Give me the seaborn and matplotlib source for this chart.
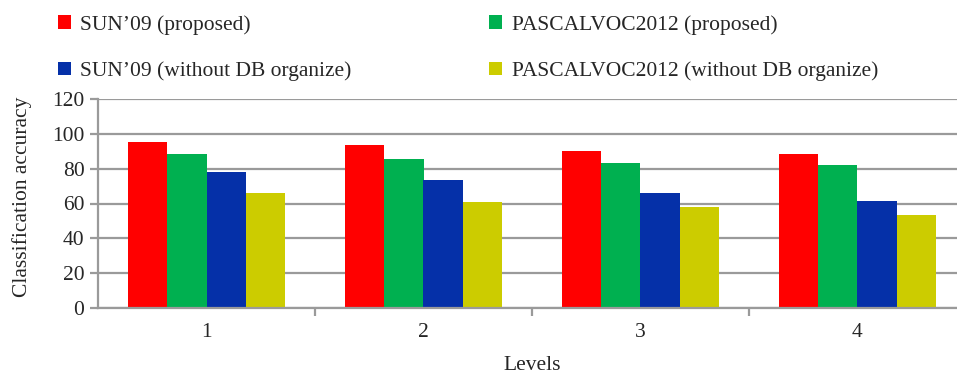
import matplotlib
matplotlib.use("Agg")
import matplotlib.pyplot as plt
from matplotlib.patches import Patch
import seaborn as sns
import pandas as pd

levels = ["1", "2", "3", "4"]
series_names = [
    "SUN\u201909 (proposed)",
    "PASCALVOC2012 (proposed)",
    "SUN\u201909 (without DB organize)",
    "PASCALVOC2012 (without DB organize)",
]
sun_proposed = [95.2, 93.7, 90.0, 88.5]
pascal_proposed = [88.5, 85.4, 83.1, 82.0]
sun_without = [77.9, 73.5, 66.0, 61.6]
pascal_without = [66.0, 60.7, 57.8, 53.4]
y_ticks = [0, 20, 40, 60, 80, 100, 120]

colors = ["#FF0000", "#00B050", "#0530A8", "#CCCC00"]

all_values = [sun_proposed, pascal_proposed, sun_without, pascal_without]
rows = []
for name, vals in zip(series_names, all_values):
    for lvl, v in zip(levels, vals):
        rows.append({"Levels": lvl, "Series": name, "Accuracy": v})
df = pd.DataFrame(rows)

sns.set_theme(style="white")
plt.rcParams["font.family"] = ["Liberation Serif", "DejaVu Serif"]
fs = 15.5

fig = plt.figure(figsize=(9.57, 3.74), dpi=100)
ax = fig.add_axes([98 / 957, 1 - 308 / 374, 868 / 957, 209 / 374])

sns.barplot(data=df, x="Levels", y="Accuracy", hue="Series",
            order=levels, hue_order=series_names, palette=colors,
            width=0.72, saturation=1, ax=ax, legend=False,
            edgecolor="none", linewidth=0)

grid_c = "#9a9a9a"
ax.set_ylim(0, 120)
ax.set_xlim(-0.5, 3.5)
ax.set_yticks(y_ticks)
ax.yaxis.grid(True, color=grid_c, linewidth=1.6)
ax.set_axisbelow(True)
for s in ["top", "right"]:
    ax.spines[s].set_visible(False)
for s in ["left", "bottom"]:
    ax.spines[s].set_color(grid_c)
    ax.spines[s].set_linewidth(1.6)

ax.tick_params(axis="y", which="major", length=5.8, width=1.6, color=grid_c,
               labelsize=fs, pad=4, left=True)
ax.tick_params(axis="x", which="major", length=0, labelsize=fs, pad=11)
ax.set_xticks([0.5, 1.5, 2.5], minor=True)
ax.tick_params(axis="x", which="minor", length=6, width=1.6, color=grid_c,
               bottom=True, direction="out")

ax.set_ylabel("Classification accuracy", fontsize=fs)
ax.yaxis.set_label_coords(-0.088, 0.53)
ax.yaxis.label.set_va("center")
ax.set_xlabel("Levels", fontsize=fs)
ax.xaxis.set_label_coords(0.5, -0.275)
ax.xaxis.label.set_va("center")

handles = [Patch(facecolor=c, edgecolor="none") for c in colors]
order = [0, 2, 1, 3]
fig.legend([handles[i] for i in order], [series_names[i] for i in order],
           ncol=2, loc="upper left", bbox_to_anchor=(0.040, 1.012),
           frameon=False, fontsize=fs, handlelength=0.6, handleheight=0.56,
           handletextpad=0.45, labelspacing=1.25, columnspacing=6.4)

fig.savefig("out.png", dpi=100)
